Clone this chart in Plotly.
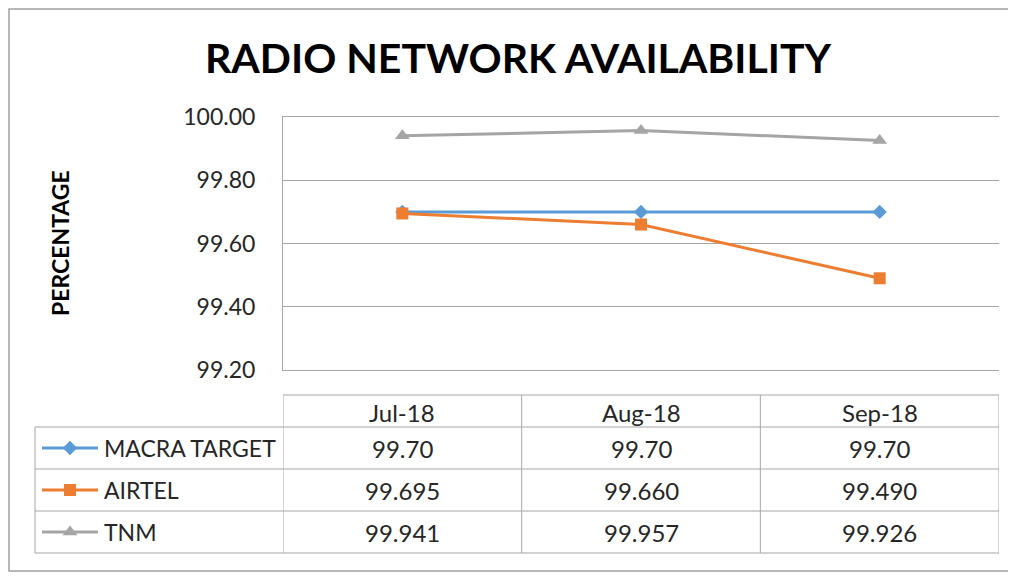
import plotly.graph_objects as go

# page body has an 8px margin, so the figure is drawn 8px in from the window corner
OFF = 8
W, H = 1016 - OFF, 577 - OFF

months = ["Jul-18", "Aug-18", "Sep-18"]
macra_target = [99.70, 99.70, 99.70]
airtel = [99.695, 99.660, 99.490]
tnm = [99.941, 99.957, 99.926]

series = [
    ("MACRA TARGET", macra_target, "#5B9BD5", "diamond", 11, "{:.2f}"),
    ("AIRTEL", airtel, "#ED7D31", "square", 12, "{:.3f}"),
    ("TNM", tnm, "#A5A5A5", "triangle-up", 13, "{:.3f}"),
]

FONT = "Lato"
GRID = "#A6A6A6"
TXT = "#262626"

# plot area in window pixels
px_left, px_right = 283, 999
py_top, py_bot = 117, 370

fig = go.Figure()

for name, vals, col, sym, size, _ in series:
    fig.add_trace(go.Scatter(
        x=months, y=vals, name=name, mode="lines+markers",
        line=dict(color=col, width=3),
        marker=dict(symbol=sym, size=size, color=col),
        xaxis="x", yaxis="y", showlegend=False,
    ))

# data table under the chart (window pixels)
head_top, head_bot = 395, 427
row_edges = [427, 469, 511, 553]
tab_left = 35

shapes = []
line = dict(color=GRID, width=1)
shapes.append(dict(type="line", xref="x2", yref="y2", x0=px_left, x1=px_right,
                   y0=head_top, y1=head_top, line=line))
for y in row_edges:
    shapes.append(dict(type="line", xref="x2", yref="y2", x0=tab_left, x1=px_right,
                       y0=y, y1=y, line=line))
shapes.append(dict(type="line", xref="x2", yref="y2", x0=tab_left, x1=tab_left,
                   y0=row_edges[0], y1=row_edges[-1], line=line))
for b in [-0.5, 0.5, 1.5, 2.5]:
    shapes.append(dict(type="line", xref="x", yref="y2", x0=b, x1=b,
                       y0=head_top, y1=row_edges[-1], line=line))
# outer chart border
shapes.append(dict(type="rect", xref="x2", yref="y2", x0=9, x1=1010, y0=9, y1=571,
                   line=dict(color="#A0A0A0", width=1.5)))

annotations = []
for m in months:
    annotations.append(dict(x=m, y=(head_top + head_bot) / 2 + 1, xref="x", yref="y2",
                            text=m, showarrow=False,
                            font=dict(family=FONT, size=24, color=TXT)))
for i, (name, vals, col, sym, size, fmt) in enumerate(series):
    yc = (row_edges[i] + row_edges[i + 1]) / 2
    annotations.append(dict(x=102, y=yc, xref="x2", yref="y2", text=name,
                            showarrow=False, xanchor="left",
                            font=dict(family=FONT, size=23, color=TXT)))
    for m, v in zip(months, vals):
        annotations.append(dict(x=m, y=yc, xref="x", yref="y2", text=fmt.format(v),
                                showarrow=False,
                                font=dict(family=FONT, size=24, color=TXT)))
    # legend key inside the table
    fig.add_trace(go.Scatter(
        x=[42, 98], y=[yc, yc], mode="lines", line=dict(color=col, width=3),
        xaxis="x2", yaxis="y2", showlegend=False, hoverinfo="skip"))
    fig.add_trace(go.Scatter(
        x=[70], y=[yc], mode="markers", marker=dict(symbol=sym, size=size, color=col),
        xaxis="x2", yaxis="y2", showlegend=False, hoverinfo="skip"))

annotations.append(dict(x=518, y=57, xref="x2", yref="y2", text="<b>RADIO NETWORK AVAILABILITY</b>",
                        showarrow=False, font=dict(family=FONT, size=41, color="#000000")))
annotations.append(dict(x=60, y=243, xref="x2", yref="y2", text="<b>PERCENTAGE</b>",
                        showarrow=False, textangle=-90,
                        font=dict(family=FONT, size=23, color="#000000")))

fig.update_layout(
    width=W, height=H,
    margin=dict(l=0, r=0, t=0, b=0, pad=0, autoexpand=False),
    paper_bgcolor="white", plot_bgcolor="rgba(0,0,0,0)",
    xaxis=dict(type="category", categoryorder="array", categoryarray=months,
               domain=[(px_left - OFF) / W, (px_right - OFF) / W], range=[-0.5, 2.5],
               showticklabels=False, showgrid=False, zeroline=False,
               showline=True, mirror=True, linecolor=GRID, linewidth=1,
               anchor="y", fixedrange=True, automargin=False),
    yaxis=dict(domain=[1 - (py_bot - OFF) / H, 1 - (py_top - OFF) / H], range=[99.2, 100.0],
               dtick=0.2, tick0=99.2, tickformat=".2f",
               showgrid=True, gridcolor=GRID, gridwidth=1, zeroline=False,
               showline=True, linecolor=GRID, linewidth=1,
               ticks="", ticklabelstandoff=22,
               tickfont=dict(family=FONT, size=23, color=TXT),
               anchor="x", fixedrange=True, automargin=False),
    xaxis2=dict(domain=[0, 1], range=[OFF, OFF + W], visible=False,
                anchor="y2", fixedrange=True, automargin=False),
    yaxis2=dict(domain=[0, 1], range=[OFF + H, OFF], visible=False,
                anchor="x2", fixedrange=True, automargin=False),
    shapes=shapes,
    annotations=annotations,
)

fig.write_html("out.html")
